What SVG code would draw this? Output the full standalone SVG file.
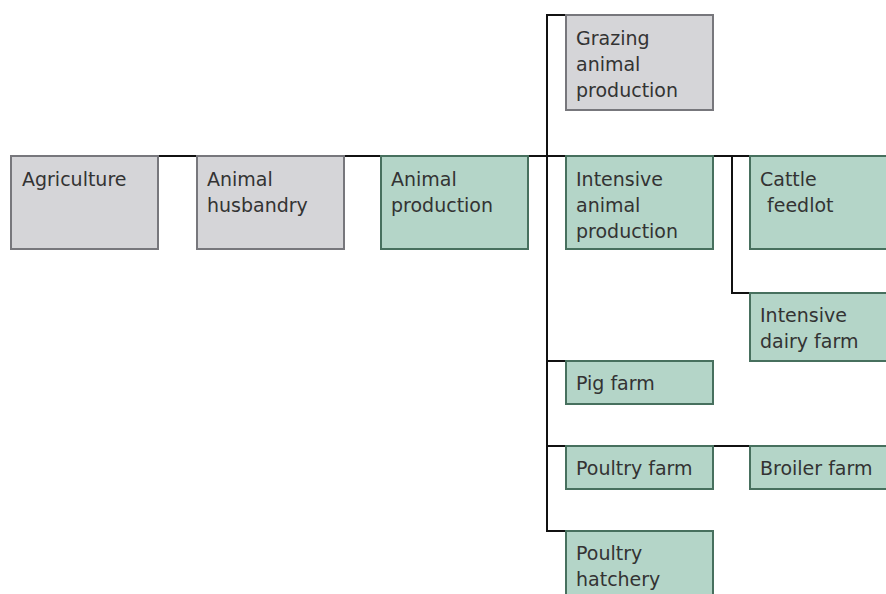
<svg xmlns="http://www.w3.org/2000/svg" width="886" height="594" viewBox="0 0 886 594">
<style>
.g rect{fill:#d5d5d8;stroke:#77777c;stroke-width:2}
.n rect{fill:#b4d5c8;stroke:#47705e;stroke-width:2}
text{font-family:"DejaVu Sans","Liberation Sans",sans-serif;font-size:19px;fill:#333}
#connectors path{fill:none;stroke:#111;stroke-width:2}
</style>
<rect width="886" height="594" fill="#fff"/>
<g id="connectors">
<path d="M158,156H197"/>
<path d="M344,156H381"/>
<path d="M528,156H566"/>
<path d="M566,15H547V531H566"/>
<path d="M547,361H566"/>
<path d="M547,446H566"/>
<path d="M713,156H750"/>
<path d="M732,156V293H750"/>
<path d="M713,446H750"/>
</g>
<g id="agriculture" class="g"><rect x="11" y="156" width="147" height="93"/><text x="22" y="186">Agriculture</text></g>
<g id="animal-husbandry" class="g"><rect x="197" y="156" width="147" height="93"/><text x="207" y="186">Animal<tspan x="207" dy="26">husbandry</tspan></text></g>
<g id="animal-production" class="n"><rect x="381" y="156" width="147" height="93"/><text x="391" y="186">Animal<tspan x="391" dy="26">production</tspan></text></g>
<g id="grazing" class="g"><rect x="566" y="15" width="147" height="95"/><text x="576" y="45">Grazing<tspan x="576" dy="26">animal</tspan><tspan x="576" dy="26">production</tspan></text></g>
<g id="intensive" class="n"><rect x="566" y="156" width="147" height="93"/><text x="576" y="186">Intensive<tspan x="576" dy="26">animal</tspan><tspan x="576" dy="26">production</tspan></text></g>
<g id="cattle-feedlot" class="n"><rect x="750" y="156" width="147" height="93"/><text x="760" y="186">Cattle<tspan x="767" dy="26">feedlot</tspan></text></g>
<g id="dairy" class="n"><rect x="750" y="293" width="147" height="68"/><text x="760" y="322">Intensive<tspan x="760" dy="26">dairy farm</tspan></text></g>
<g id="pig" class="n"><rect x="566" y="361" width="147" height="43"/><text x="576" y="390">Pig farm</text></g>
<g id="poultry" class="n"><rect x="566" y="446" width="147" height="43"/><text x="576" y="475">Poultry farm</text></g>
<g id="broiler" class="n"><rect x="750" y="446" width="147" height="43"/><text x="760" y="475">Broiler farm</text></g>
<g id="hatchery" class="n"><rect x="566" y="531" width="147" height="80"/><text x="576" y="560">Poultry<tspan x="576" dy="26">hatchery</tspan></text></g>
</svg>
